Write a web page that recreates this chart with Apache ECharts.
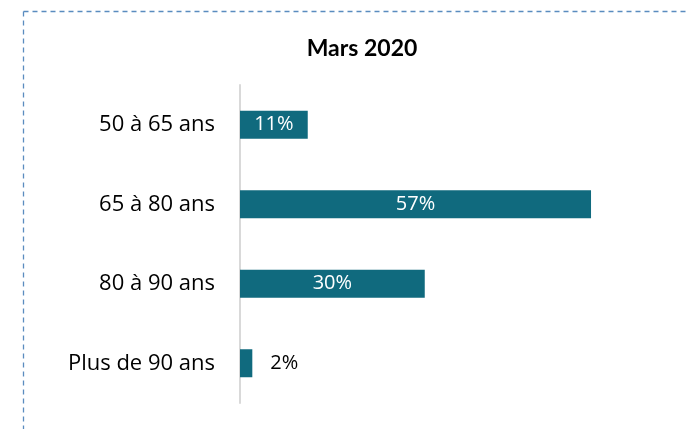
<!DOCTYPE html>
<html>
<head>
<meta charset="utf-8">
<script src="https://cdn.jsdelivr.net/npm/echarts@6/dist/echarts.min.js"></script>
<style>
html,body{margin:0;padding:0;background:#fff;}
#c{width:689px;height:429px;}
</style>
</head>
<body>
<div id="c"></div>
<script>
var title = 'Mars 2020';
var categories = ['50 à 65 ans', '65 à 80 ans', '80 à 90 ans', 'Plus de 90 ans'];
var values = [11, 57, 30, 2];
var insideLabel = [true, true, true, false];

var chart = echarts.init(document.getElementById('c'));
var data = values.map(function (v, i) {
  return {
    value: v,
    label: insideLabel[i]
      ? { position: 'inside', color: '#ffffff' }
      : { position: 'right', color: '#000000', distance: 18 }
  };
});
chart.setOption({
  animation: false,
  backgroundColor: '#ffffff',
  title: {
    text: title,
    left: 357, top: 32, textAlign: 'center',
    textStyle: { fontFamily: 'Lato', fontSize: 23, fontWeight: 'bold', color: '#000' }
  },
  grid: { left: 240, top: 85, bottom: 26, right: 79.5, containLabel: false },
  xAxis: {
    type: 'value', min: 0, max: 60,
    show: false
  },
  yAxis: {
    type: 'category', data: categories, inverse: true,
    axisLine: { show: true, lineStyle: { color: '#d9d9d9', width: 2 } },
    axisTick: { show: false },
    axisLabel: { fontFamily: 'Open Sans', fontSize: 22, color: '#000', margin: 25 }
  },
  series: [{
    type: 'bar',
    data: data,
    barWidth: 28,
    itemStyle: { color: '#106a7e' },
    label: {
      show: true, fontFamily: 'Open Sans', fontSize: 20,
      formatter: function (p) { return p.value + '%'; }
    }
  }],
  graphic: [
    { type: 'line', shape: { x1: 23.5, y1: 11.5, x2: 689, y2: 11.5 },
      style: { stroke: '#5a8cbf', lineWidth: 1.3, lineDash: [5, 4] } },
    { type: 'line', shape: { x1: 23.5, y1: 11.5, x2: 23.5, y2: 429 },
      style: { stroke: '#5a8cbf', lineWidth: 1.3, lineDash: [5, 4] } }
  ]
});
</script>
</body>
</html>
